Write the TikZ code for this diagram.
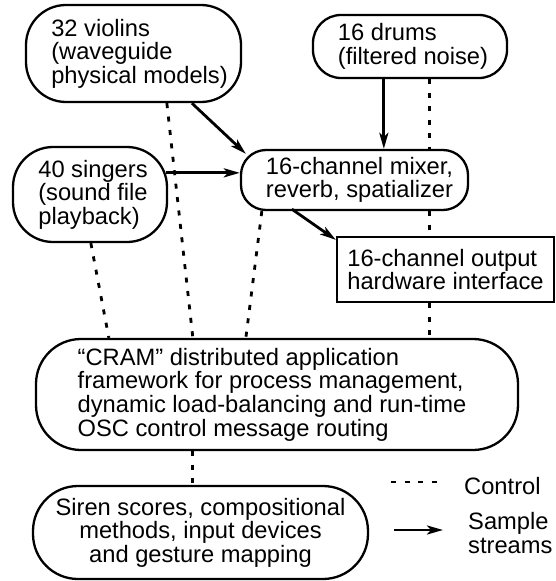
\documentclass[tikz,border=0pt]{standalone}
\usepackage{fontspec}
\setmainfont{Liberation Sans}
\usetikzlibrary{arrows.meta,calc}
\begin{document}
\begin{tikzpicture}[x=1pt,y=-1pt,
  every node/.style={font=\fontsize{23.7}{23.6}\selectfont, inner sep=0pt},
  box/.style={draw, line width=2.3pt, align=left},
  ctrl/.style={line width=2.8pt, dash pattern=on 5pt off 8.5pt},
  flow/.style={line width=2.8pt, -{Stealth[length=16pt,width=9pt,inset=4pt]}},
]
\useasboundingbox (0,0) rectangle (556,581);
% nodes
\node[box, rounded corners=40pt, minimum width=215pt, minimum height=97pt,
  label={[xshift=6pt,align=left]center:{32 violins\\(waveguide\\physical models)}}] (violins) at (133.5,53.5) {};
\node[box, rounded corners=28pt, minimum width=194pt, minimum height=63pt,
  label={[xshift=3pt,align=left]center:{16 drums\\(filtered noise)}}] (drums) at (410,46.5) {};
\node[box, rounded corners=40pt, minimum width=154pt, minimum height=95pt,
  label={[xshift=3pt,align=left]center:{40 singers\\(sound file\\playback)}}] (singers) at (90,194.5) {};
\node[box, rounded corners=25pt, minimum width=227pt, minimum height=60pt,
  label={[xshift=5pt,align=left]center:{16-channel mixer,\\reverb, spatializer}}] (mixer) at (354.5,180) {};
\node[box, minimum width=217pt, minimum height=65pt] (output) at (445.5,269.5) {16-channel output\\hardware interface};
\node[box, rounded corners=45pt, minimum width=482pt, minimum height=111pt,
  label={[xshift=-5pt,align=left]center:{“CRAM” distributed application\\framework for process management,\\dynamic load-balancing and run-time\\OSC control message routing}}] (cram) at (277,394.5) {};
\node[box, align=center, rounded corners=45pt, minimum width=335pt, minimum height=93pt] (siren) at (200.5,532.5) {Siren scores, compositional\\methods, input devices\\and gesture mapping};
% sample streams
\draw[flow] ($(violins.south west)+(167,0)$) -- ($(mixer.north west)+(6,5)$);
\draw[flow] ($(singers.north east)+(-2,27)$) -- ($(mixer.north west)+(0,24)$);
\draw[flow] ($(drums.south west)+(72,0)$) -- ($(mixer.north west)+(144,0)$);
\draw[flow] ($(mixer.south west)+(52,-2)$) -- ($(output.north west)+(0,4)$);
% control
\draw[ctrl] ($(violins.south west)+(142,0)$) -- ($(cram.north west)+(158,0)$);
\draw[ctrl] ($(singers.south west)+(79,0)$) -- ($(cram.north west)+(74,0)$);
\draw[ctrl] ($(mixer.south west)+(22,0)$) -- ($(cram.north west)+(211,0)$);
\draw[ctrl] ($(drums.south west)+(118,0)$) -- ($(mixer.north west)+(190,0)$);
\draw[ctrl] ($(mixer.south west)+(190,0)$) -- ($(output.north west)+(94,0)$);
\draw[ctrl] ($(output.south west)+(94,0)$) -- ($(cram.north west)+(395,0)$);
\draw[ctrl] ($(cram.south west)+(158,0)$) -- ($(siren.north west)+(161,0)$);
% legend
\coordinate (ca) at (391,482);
\coordinate (cb) at (443,482);
\draw[ctrl] (ca) -- (cb);
\node[anchor=base west] (control) at (464,494) {Control};
\coordinate (sa) at (394,530);
\coordinate (sb) at (443,530);
\draw[flow] (sa) -- (sb);
\node[anchor=base west, align=left] (sample) at (468,553) {Sample\\streams};
\end{tikzpicture}
\end{document}
